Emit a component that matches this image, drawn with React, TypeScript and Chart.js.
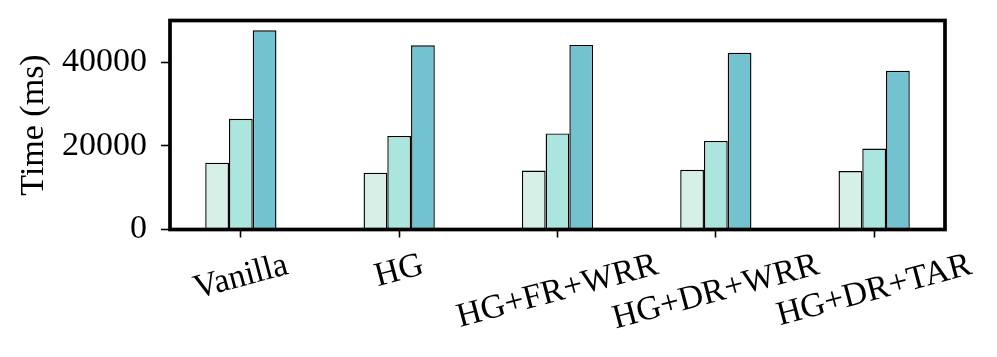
import React, { useEffect, useRef } from 'react';
import { Chart, registerables } from 'chart.js';

Chart.register(...registerables);

const categories = ['Vanilla', 'HG', 'HG+FR+WRR', 'HG+DR+WRR', 'HG+DR+TAR'];
const series1 = [16000, 13600, 14100, 14300, 14000];
const series2 = [26500, 22400, 23000, 21200, 19400];
const series3 = [47700, 44100, 44200, 42300, 38000];
const seriesValues = [series1, series2, series3];
const seriesColors = ['#d6f0e8', '#abe6de', '#73c2cf'];
const yTicks = [0, 20000, 40000];
const yTitle = 'Time (ms)';

const FONT_FAMILY = '"Liberation Serif", "Times New Roman", serif';
const FONT_SIZE = 34;
const LABEL_ANGLE = 15;
const LABEL_TOP = 246;

const framePlugin = {
  id: 'frameAndLabels',
  afterDraw(chart: any) {
    const { ctx, chartArea } = chart;
    ctx.save();
    ctx.strokeStyle = '#000';
    ctx.lineWidth = 3.7;
    ctx.strokeRect(chartArea.left, chartArea.top, chartArea.right - chartArea.left, chartArea.bottom - chartArea.top);
    ctx.restore();

    const xs = chart.scales.x;
    const a = (LABEL_ANGLE * Math.PI) / 180;
    ctx.save();
    ctx.font = `${FONT_SIZE}px ${FONT_FAMILY}`;
    ctx.fillStyle = '#000';
    ctx.textAlign = 'center';
    ctx.textBaseline = 'middle';
    categories.forEach((lab, i) => {
      const px = xs.getPixelForValue(i);
      const W = ctx.measureText(lab).width;
      const H = FONT_SIZE * 1.15;
      const h = W * Math.sin(a) + H * Math.cos(a);
      const cy = LABEL_TOP + h / 2;
      ctx.save();
      ctx.translate(px, cy);
      ctx.rotate(-a);
      ctx.fillText(lab, 0, 0);
      ctx.restore();
    });
    ctx.restore();
  },
};

export default function App() {
  const ref = useRef<HTMLCanvasElement | null>(null);
  useEffect(() => {
    if (!ref.current) return;
    Chart.defaults.font.family = FONT_FAMILY;
    const chart = new Chart(ref.current, {
      type: 'bar',
      data: {
        datasets: seriesValues.map((vals, si) => ({
          data: vals.map((v, i) => ({ x: i, y: v })),
          backgroundColor: seriesColors[si],
          borderColor: '#000',
          borderWidth: 1.4,
          categoryPercentage: 0.45,
          barPercentage: 1,
        })),
      },
      options: {
        animation: false,
        responsive: false,
        devicePixelRatio: 1,
        layout: { padding: { top: 20.5, right: 52, bottom: 0, left: 0 } },
        plugins: { legend: { display: false }, tooltip: { enabled: false } },
        scales: {
          x: {
            type: 'linear',
            offset: false,
            min: -0.4475,
            max: 4.4475,
            afterBuildTicks: (s: any) => {
              s.ticks = categories.map((_, i) => ({ value: i }));
            },
            afterFit: (s: any) => {
              s.height = 127.5;
              s.paddingLeft = 0;
              s.paddingRight = 0;
            },
            ticks: { display: false },
            grid: {
              offset: false,
              drawOnChartArea: false,
              drawTicks: true,
              tickLength: 8,
              tickWidth: 1.6,
              tickColor: '#000',
            },
            border: { display: false },
          },
          y: {
            min: 0,
            max: 50050,
            afterBuildTicks: (s: any) => {
              s.ticks = yTicks.map((v) => ({ value: v }));
            },
            afterFit: (s: any) => {
              s.width = 170;
              s.paddingTop = 0;
              s.paddingBottom = 0;
            },
            ticks: {
              font: { size: FONT_SIZE, family: FONT_FAMILY },
              color: '#000',
              padding: 14,
              callback: (v: any) => String(v),
            },
            grid: {
              drawOnChartArea: false,
              drawTicks: true,
              tickLength: 9,
              tickWidth: 1.6,
              tickColor: '#000',
            },
            border: { display: false },
            title: {
              display: true,
              text: yTitle,
              color: '#000',
              font: { size: FONT_SIZE, family: FONT_FAMILY },
              padding: { top: 14, bottom: 0 },
            },
          },
        },
      },
      plugins: [framePlugin],
    } as any);
    return () => chart.destroy();
  }, []);
  return (
    <div style={{ position: 'absolute', left: 0, top: 0, width: 997, height: 357, background: '#fff' }}>
      <canvas ref={ref} width={997} height={357} style={{ width: 997, height: 357 }} />
    </div>
  );
}
